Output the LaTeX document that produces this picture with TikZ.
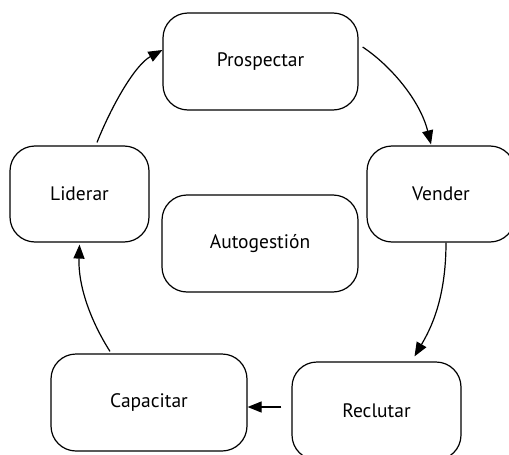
\documentclass[tikz,border=0pt]{standalone}
\usepackage{fontspec}
\setmainfont{PT Sans}
\usetikzlibrary{arrows.meta}
\begin{document}
\begin{tikzpicture}[x=1pt,y=-1pt,
  boxnode/.style={draw, line width=1.2pt, rounded corners=25pt, align=center,
    font=\fontsize{19.5}{22}\selectfont, inner sep=0pt},
  arr/.style={line width=1.2pt, -{Triangle[length=14pt,width=11pt]}}]
\useasboundingbox (0,0) rectangle (509,455);
\node[boxnode, minimum width=195pt, minimum height=97pt] (pro) at (260.5,61.5) {Prospectar};
\node[boxnode, minimum width=139pt, minimum height=96pt] (lid) at (79.5,194) {Liderar};
\node[boxnode, minimum width=148pt, minimum height=96pt] (ven) at (441,194) {Vender};
\node[boxnode, minimum width=196pt, minimum height=97pt] (aut) at (260,243.5) {Autogestión};
\node[boxnode, minimum width=196pt, minimum height=97pt] (cap) at (149,402.5) {Capacitar};
\node[boxnode, minimum width=169pt, minimum height=98pt] (rec) at (376.5,411) {Reclutar};
\draw[arr] ([xshift=17.5pt,yshift=3pt]lid.north) .. controls (112,105) and (135,65) .. ([yshift=11.5pt]pro.west);
\draw[arr] ([xshift=4pt,yshift=14.5pt]pro.east) .. controls (390,65) and (420,100) .. ([xshift=-10pt,yshift=1pt]ven.north);
\draw[arr] ([xshift=5pt]ven.south) .. controls (446,300) and (430,330) .. ([xshift=38pt,yshift=5pt]rec.north);
\draw[arr] ([xshift=-39pt,yshift=2pt]cap.north) .. controls (90,320) and (78,285) .. ([yshift=-2pt]lid.south);
\draw[arr] ([xshift=-10pt,yshift=4pt]rec.west) -- ([yshift=-4.5pt]cap.east);
\end{tikzpicture}
\end{document}
